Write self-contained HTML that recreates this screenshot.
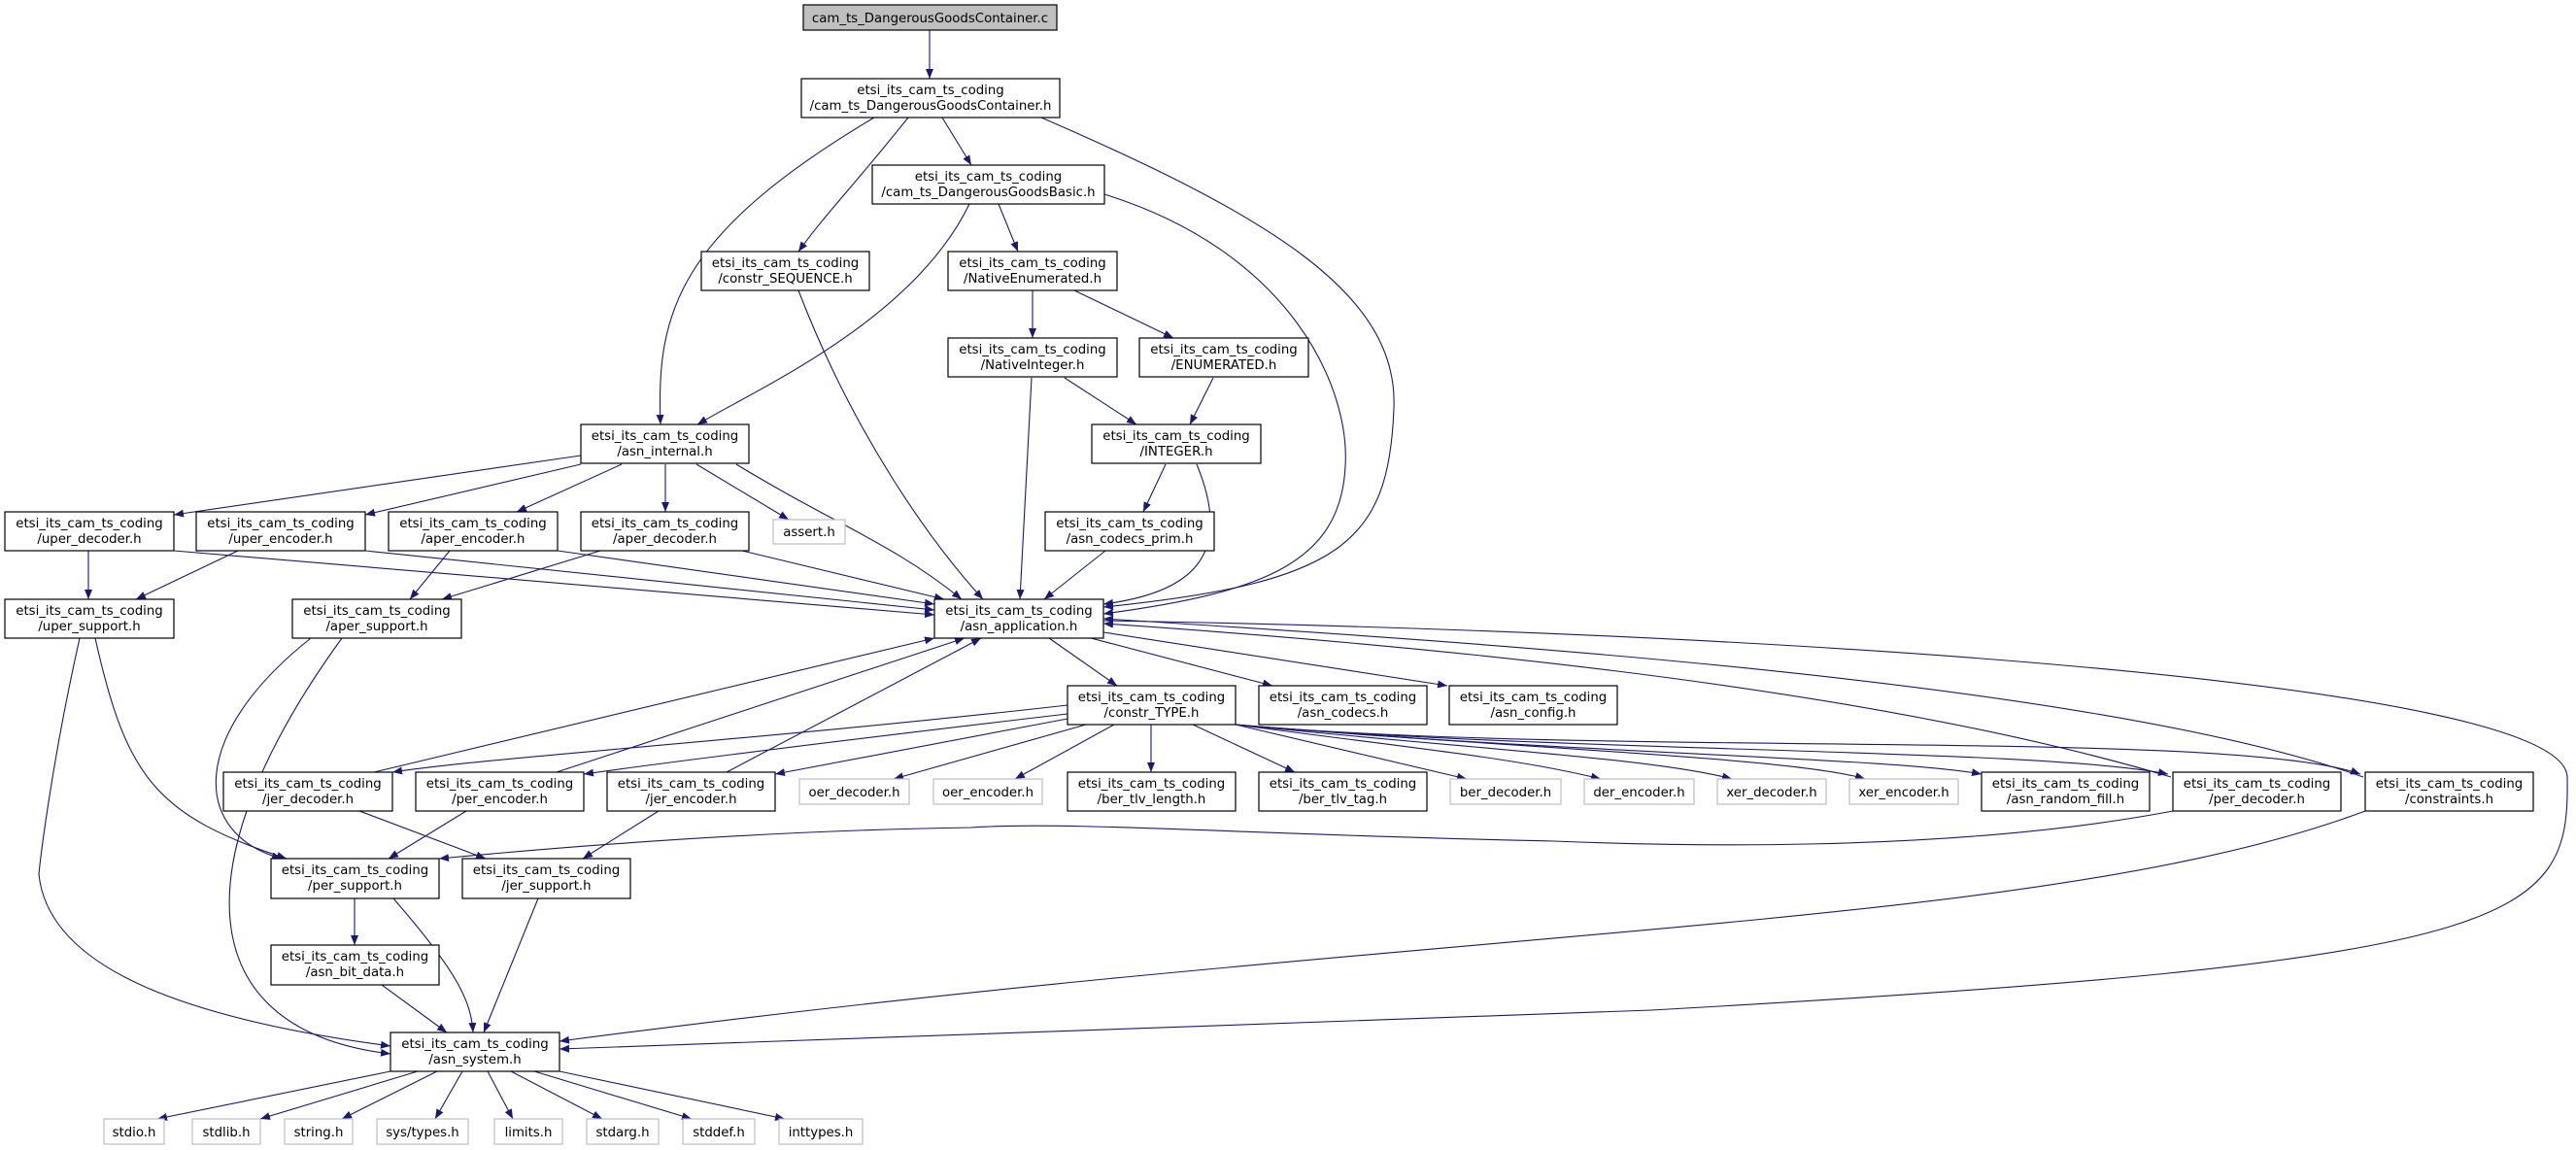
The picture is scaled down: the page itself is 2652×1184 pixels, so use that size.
<!DOCTYPE html>
<html><head><meta charset="utf-8"><style>
html,body{margin:0;padding:0;background:#fff;}
svg{display:block;}
text{font-family:"DejaVu Sans","Liberation Sans",sans-serif;font-size:13.3px;fill:#000;text-anchor:middle;}
.n{fill:#fff;stroke:#000;stroke-width:1.2;}
.g{fill:#fff;stroke:#bfbfbf;stroke-width:1.2;}
.e{fill:none;stroke:#191970;stroke-width:1.1;}
</style></head><body>
<svg width="2652" height="1184" viewBox="0 0 2652 1184" xmlns="http://www.w3.org/2000/svg">
<defs><marker id="a" markerWidth="10" markerHeight="8" refX="10" refY="4" orient="auto" markerUnits="userSpaceOnUse"><path d="M0,0 L10,4 L0,8 z" fill="#191970"/></marker></defs>
<g class="e" marker-end="url(#a)">
<path d="M957,31 L957,81"/>
<path d="M900,121 C700,240 675,320 680,437"/>
<path d="M935,121 C880,190 850,220 822,259"/>
<path d="M970,121 L1000,170"/>
<path d="M1072,121 C1300,220 1440,300 1435,420 C1430,560 1380,600 1136,625"/>
<path d="M998,210 C940,330 780,400 718,437"/>
<path d="M1028,210 L1048,259"/>
<path d="M1137,200 C1330,260 1390,400 1385,480 C1380,580 1300,610 1136,632"/>
<path d="M822,299 C880,450 960,560 1012,617"/>
<path d="M1063,299 L1063,348"/>
<path d="M1106,299 L1208,348"/>
<path d="M1096,389 L1170,437"/>
<path d="M1062,389 L1050,617"/>
<path d="M1249,389 L1225,437"/>
<path d="M1200,478 L1177,527"/>
<path d="M1232,478 C1270,570 1230,610 1136,622"/>
<path d="M1138,567 L1075,617"/>
<path d="M598,469 L179,530"/>
<path d="M598,478 L376,530"/>
<path d="M640,478 L532,527"/>
<path d="M685,478 L685,527"/>
<path d="M717,478 L812,535"/>
<path d="M758,478 C860,540 920,560 990,617"/>
<path d="M91,567 L91,617"/>
<path d="M179,567 L962,633"/>
<path d="M245,567 L140,617"/>
<path d="M376,567 L962,628"/>
<path d="M463,567 L422,617"/>
<path d="M574,567 L962,622"/>
<path d="M618,567 L455,617"/>
<path d="M764,567 L972,617"/>
<path d="M98,657 C130,800 160,840 295,884"/>
<path d="M82,657 C50,800 40,900 40,900 C50,1000 200,1050 402,1077"/>
<path d="M320,657 C190,760 200,860 290,884"/>
<path d="M352,657 C190,880 190,1060 402,1085"/>
<path d="M1080,657 L1150,706"/>
<path d="M1123,657 L1310,706"/>
<path d="M1136,651 L1490,706"/>
<path d="M1136,639 C1800,650 2640,700 2643,800 C2646,950 2600,990 1700,1040 C1200,1060 800,1075 576,1080"/>
<path d="M385,795 L962,657"/>
<path d="M573,795 L993,657"/>
<path d="M748,795 L1010,657"/>
<path d="M2235,800 C1900,700 1400,660 1136,642"/>
<path d="M2433,800 C2150,700 1500,660 1136,637"/>
<path d="M1099,726 C800,760 500,780 404,795"/>
<path d="M1099,735 C800,770 650,790 601,797"/>
<path d="M1099,740 L798,797"/>
<path d="M1118,746 L920,802"/>
<path d="M1147,746 L1045,802"/>
<path d="M1185,746 L1185,795"/>
<path d="M1228,746 L1333,795"/>
<path d="M1272,746 L1510,802"/>
<path d="M1272,746 C1450,770 1560,780 1648,802"/>
<path d="M1272,746 C1500,770 1700,780 1783,802"/>
<path d="M1272,746 C1550,770 1850,780 1920,802"/>
<path d="M1272,746 C1600,775 1950,780 2040,797"/>
<path d="M1272,746 C1600,775 2100,770 2232,797"/>
<path d="M1272,746 C1650,780 2300,750 2430,797"/>
<path d="M370,835 L500,884"/>
<path d="M480,835 L400,884"/>
<path d="M678,835 L600,884"/>
<path d="M2237,835 C2000,880 1700,870 1600,866 C1300,860 1100,845 1000,852 C800,855 600,870 452,884"/>
<path d="M2435,835 C2100,960 1500,950 576,1072"/>
<path d="M365,925 L365,973"/>
<path d="M405,925 C470,1000 485,1030 487,1063"/>
<path d="M554,925 L498,1063"/>
<path d="M393,1014 L460,1063"/>
<path d="M402,1103 L162,1152"/>
<path d="M430,1103 L268,1152"/>
<path d="M450,1103 L352,1152"/>
<path d="M476,1103 L448,1152"/>
<path d="M502,1103 L528,1152"/>
<path d="M526,1103 L620,1152"/>
<path d="M550,1103 L712,1152"/>
<path d="M576,1103 L808,1152"/>
</g>
<g>
<rect x="827" y="5" width="261" height="26" fill="#bfbfbf" stroke="#000" stroke-width="1.2"/><text x="957.5" y="23">cam_ts_DangerousGoodsContainer.c</text>
<rect class="n" x="825" y="81" width="266" height="40"/><text x="958" y="97">etsi_its_cam_ts_coding</text><text x="958" y="113">/cam_ts_DangerousGoodsContainer.h</text>
<rect class="n" x="898" y="170" width="239" height="40"/><text x="1017.5" y="186">etsi_its_cam_ts_coding</text><text x="1017.5" y="202">/cam_ts_DangerousGoodsBasic.h</text>
<rect class="n" x="722" y="259" width="173" height="40"/><text x="808.5" y="275">etsi_its_cam_ts_coding</text><text x="808.5" y="291">/constr_SEQUENCE.h</text>
<rect class="n" x="976" y="259" width="174" height="40"/><text x="1063" y="275">etsi_its_cam_ts_coding</text><text x="1063" y="291">/NativeEnumerated.h</text>
<rect class="n" x="976" y="348" width="174" height="40"/><text x="1063" y="364">etsi_its_cam_ts_coding</text><text x="1063" y="380">/NativeInteger.h</text>
<rect class="n" x="1173" y="348" width="174" height="40"/><text x="1260" y="364">etsi_its_cam_ts_coding</text><text x="1260" y="380">/ENUMERATED.h</text>
<rect class="n" x="598" y="437" width="173" height="40"/><text x="684.5" y="453">etsi_its_cam_ts_coding</text><text x="684.5" y="469">/asn_internal.h</text>
<rect class="n" x="1124" y="437" width="174" height="40"/><text x="1211" y="453">etsi_its_cam_ts_coding</text><text x="1211" y="469">/INTEGER.h</text>
<rect class="n" x="5" y="527" width="174" height="40"/><text x="92" y="543">etsi_its_cam_ts_coding</text><text x="92" y="559">/uper_decoder.h</text>
<rect class="n" x="202" y="527" width="174" height="40"/><text x="289" y="543">etsi_its_cam_ts_coding</text><text x="289" y="559">/uper_encoder.h</text>
<rect class="n" x="400" y="527" width="174" height="40"/><text x="487" y="543">etsi_its_cam_ts_coding</text><text x="487" y="559">/aper_encoder.h</text>
<rect class="n" x="598" y="527" width="173" height="40"/><text x="684.5" y="543">etsi_its_cam_ts_coding</text><text x="684.5" y="559">/aper_decoder.h</text>
<rect class="g" x="796" y="535" width="74" height="25"/><text x="833" y="552">assert.h</text>
<rect class="n" x="1076" y="527" width="174" height="40"/><text x="1163" y="543">etsi_its_cam_ts_coding</text><text x="1163" y="559">/asn_codecs_prim.h</text>
<rect class="n" x="5" y="617" width="174" height="40"/><text x="92" y="633">etsi_its_cam_ts_coding</text><text x="92" y="649">/uper_support.h</text>
<rect class="n" x="301" y="617" width="174" height="40"/><text x="388" y="633">etsi_its_cam_ts_coding</text><text x="388" y="649">/aper_support.h</text>
<rect class="n" x="962" y="617" width="174" height="40"/><text x="1049" y="633">etsi_its_cam_ts_coding</text><text x="1049" y="649">/asn_application.h</text>
<rect class="n" x="1099" y="706" width="173" height="40"/><text x="1185.5" y="722">etsi_its_cam_ts_coding</text><text x="1185.5" y="738">/constr_TYPE.h</text>
<rect class="n" x="1296" y="706" width="173" height="40"/><text x="1382.5" y="722">etsi_its_cam_ts_coding</text><text x="1382.5" y="738">/asn_codecs.h</text>
<rect class="n" x="1492" y="706" width="173" height="40"/><text x="1578.5" y="722">etsi_its_cam_ts_coding</text><text x="1578.5" y="738">/asn_config.h</text>
<rect class="n" x="230" y="795" width="174" height="40"/><text x="317" y="811">etsi_its_cam_ts_coding</text><text x="317" y="827">/jer_decoder.h</text>
<rect class="n" x="428" y="795" width="173" height="40"/><text x="514.5" y="811">etsi_its_cam_ts_coding</text><text x="514.5" y="827">/per_encoder.h</text>
<rect class="n" x="625" y="795" width="173" height="40"/><text x="711.5" y="811">etsi_its_cam_ts_coding</text><text x="711.5" y="827">/jer_encoder.h</text>
<rect class="g" x="823" y="802" width="113" height="26"/><text x="879.5" y="820">oer_decoder.h</text>
<rect class="g" x="961" y="802" width="112" height="26"/><text x="1017" y="820">oer_encoder.h</text>
<rect class="n" x="1099" y="795" width="173" height="40"/><text x="1185.5" y="811">etsi_its_cam_ts_coding</text><text x="1185.5" y="827">/ber_tlv_length.h</text>
<rect class="n" x="1296" y="795" width="173" height="40"/><text x="1382.5" y="811">etsi_its_cam_ts_coding</text><text x="1382.5" y="827">/ber_tlv_tag.h</text>
<rect class="g" x="1493" y="802" width="114" height="26"/><text x="1550" y="820">ber_decoder.h</text>
<rect class="g" x="1631" y="802" width="113" height="26"/><text x="1687.5" y="820">der_encoder.h</text>
<rect class="g" x="1768" y="802" width="112" height="26"/><text x="1824" y="820">xer_decoder.h</text>
<rect class="g" x="1904" y="802" width="112" height="26"/><text x="1960" y="820">xer_encoder.h</text>
<rect class="n" x="2040" y="795" width="173" height="40"/><text x="2126.5" y="811">etsi_its_cam_ts_coding</text><text x="2126.5" y="827">/asn_random_fill.h</text>
<rect class="n" x="2237" y="795" width="173" height="40"/><text x="2323.5" y="811">etsi_its_cam_ts_coding</text><text x="2323.5" y="827">/per_decoder.h</text>
<rect class="n" x="2435" y="795" width="173" height="40"/><text x="2521.5" y="811">etsi_its_cam_ts_coding</text><text x="2521.5" y="827">/constraints.h</text>
<rect class="n" x="279" y="884" width="173" height="41"/><text x="365.5" y="900">etsi_its_cam_ts_coding</text><text x="365.5" y="916">/per_support.h</text>
<rect class="n" x="476" y="884" width="173" height="41"/><text x="562.5" y="900">etsi_its_cam_ts_coding</text><text x="562.5" y="916">/jer_support.h</text>
<rect class="n" x="279" y="973" width="173" height="41"/><text x="365.5" y="989">etsi_its_cam_ts_coding</text><text x="365.5" y="1005">/asn_bit_data.h</text>
<rect class="n" x="402" y="1063" width="174" height="40"/><text x="489" y="1079">etsi_its_cam_ts_coding</text><text x="489" y="1095">/asn_system.h</text>
<rect class="g" x="107" y="1152" width="62" height="26"/><text x="138" y="1170">stdio.h</text>
<rect class="g" x="198" y="1152" width="70" height="26"/><text x="233" y="1170">stdlib.h</text>
<rect class="g" x="293" y="1152" width="70" height="26"/><text x="328" y="1170">string.h</text>
<rect class="g" x="388" y="1152" width="94" height="26"/><text x="435" y="1170">sys/types.h</text>
<rect class="g" x="509" y="1152" width="70" height="26"/><text x="544" y="1170">limits.h</text>
<rect class="g" x="604" y="1152" width="74" height="26"/><text x="641" y="1170">stdarg.h</text>
<rect class="g" x="703" y="1152" width="74" height="26"/><text x="740" y="1170">stddef.h</text>
<rect class="g" x="802" y="1152" width="86" height="26"/><text x="845" y="1170">inttypes.h</text>
</g>
</svg>
</body></html>
